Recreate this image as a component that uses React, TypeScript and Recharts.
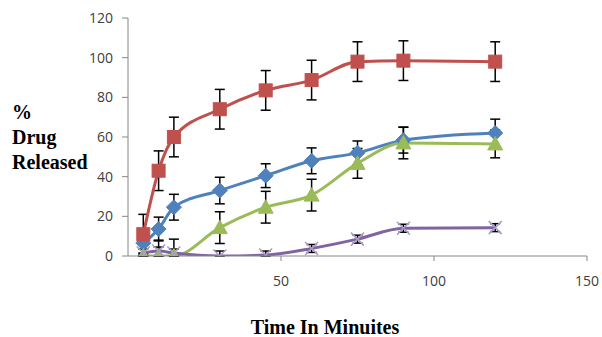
import React from 'react';
import { LineChart, Line, XAxis, YAxis, ErrorBar } from 'recharts';

const times = [5, 10, 15, 30, 45, 60, 75, 90, 120];
const blueVals = [6.5, 13.6, 24.6, 33, 40.5, 48, 52, 58.4, 62];
const blueErr = [5, 6, 6.5, 6.7, 6, 6.5, 6, 6.5, 7];
const redVals = [11, 43, 60, 74, 83.5, 88.7, 98, 98.5, 98];
const redErr = [10, 10, 10, 10, 10, 10, 10, 10, 10];
const greenVals = [0, 0, 0, 14.3, 24.6, 30.7, 46.7, 57, 56.5];
const greenErr: (number | number[])[] = [[0, 8], [0, 8], [0, 8.5], 8, 8, 8, 7.5, 8, 7];
const purpleVals = [1.5, 2.5, 1.5, 0, 0.5, 3.8, 8.5, 14, 14.3];
const purpleErr: (number | number[])[] = [[1.5, 2], [2.5, 2], [1.5, 2], [0, 2.5], [0.5, 2], 2, 2, 2, 2];
const yTicks = [0, 20, 40, 60, 80, 100, 120];
const xTicks = [50, 100, 150];

const data = times.map((t, i) => ({
  t,
  blue: blueVals[i],
  blueErr: blueErr[i],
  red: redVals[i],
  redErr: redErr[i],
  green: greenVals[i],
  greenErr: greenErr[i],
  purple: purpleVals[i],
  purpleErr: purpleErr[i],
}));

const BLUE = '#4F81BD';
const RED = '#C0504D';
const GREEN = '#9BBB59';
const PURPLE = '#8064A2';

const Diamond = (p: any) => {
  const { cx, cy } = p;
  if (cx == null || cy == null) return <g key={p.key} />;
  const r = 7.5;
  return (
    <path key={p.key} d={`M${cx},${cy - r}L${cx + r},${cy}L${cx},${cy + r}L${cx - r},${cy}Z`} fill={BLUE} stroke={BLUE} strokeWidth={1} />
  );
};
const Square = (p: any) => {
  const { cx, cy } = p;
  if (cx == null || cy == null) return <g key={p.key} />;
  const r = 6.5;
  return <rect key={p.key} x={cx - r} y={cy - r} width={2 * r} height={2 * r} fill={RED} stroke={RED} strokeWidth={1} />;
};
const Triangle = (p: any) => {
  const { cx, cy } = p;
  if (cx == null || cy == null) return <g key={p.key} />;
  const r = 7.5;
  return (
    <path key={p.key} d={`M${cx},${cy - r}L${cx + r},${cy + r * 0.8}L${cx - r},${cy + r * 0.8}Z`} fill={GREEN} stroke={GREEN} strokeWidth={1} />
  );
};
const Cross = (p: any) => {
  const { cx, cy } = p;
  if (cx == null || cy == null) return <g key={p.key} />;
  const r = 6.5;
  return (
    <path key={p.key} d={`M${cx - r},${cy - r}L${cx + r},${cy + r}M${cx - r},${cy + r}L${cx + r},${cy - r}`} stroke="#A99BC8" strokeWidth={1.5} fill="none" />
  );
};

const tickStyle = { fontFamily: 'Open Sans', fontSize: 14, fill: '#404040' };
const labelStyle: React.CSSProperties = {
  position: 'absolute',
  fontFamily: '"Liberation Serif", serif',
  fontWeight: 'bold',
  fontSize: 20,
  color: '#000',
  lineHeight: '25px',
  whiteSpace: 'nowrap',
};

export default function App() {
  return (
    <div style={{ position: 'absolute', left: 0, top: 0, width: 602, height: 337, background: '#fff' }}>
      <LineChart width={602} height={337} data={data} margin={{ top: 18, right: 15, bottom: 41, left: 0 }}>
        <XAxis
          dataKey="t"
          type="number"
          domain={[0, 150]}
          ticks={xTicks}
          tickSize={5}
          tickMargin={15}
          height={40}
          stroke="#868686"
          tick={tickStyle}
          tickLine={{ stroke: '#868686' }}
          allowDataOverflow
        />
        <YAxis
          type="number"
          domain={[0, 120]}
          ticks={yTicks}
          width={128}
          tickSize={6}
          tickMargin={9}
          stroke="#868686"
          tick={tickStyle}
          tickLine={{ stroke: '#868686' }}
          allowDataOverflow
        />
        <Line dataKey="blue" type="monotone" stroke={BLUE} strokeWidth={3} dot={Diamond} activeDot={false} isAnimationActive={false}>
          <ErrorBar dataKey="blueErr" direction="y" width={5} stroke="#000" strokeWidth={1.5} />
        </Line>
        <Line dataKey="red" type="monotone" stroke={RED} strokeWidth={3} dot={Square} activeDot={false} isAnimationActive={false}>
          <ErrorBar dataKey="redErr" direction="y" width={5} stroke="#000" strokeWidth={1.5} />
        </Line>
        <Line dataKey="green" type="monotone" stroke={GREEN} strokeWidth={3} dot={Triangle} activeDot={false} isAnimationActive={false}>
          <ErrorBar dataKey="greenErr" direction="y" width={5} stroke="#000" strokeWidth={1.5} />
        </Line>
        <Line dataKey="purple" type="monotone" stroke={PURPLE} strokeWidth={3} dot={Cross} activeDot={false} isAnimationActive={false}>
          <ErrorBar dataKey="purpleErr" direction="y" width={5} stroke="#000" strokeWidth={1.5} />
        </Line>
      </LineChart>
      <div style={{ ...labelStyle, left: 12, top: 100 }}>
        %<br />Drug<br />Released
      </div>
      <div style={{ ...labelStyle, left: 325, top: 315, transform: 'translateX(-50%)' }}>Time In Minuites</div>
    </div>
  );
}
